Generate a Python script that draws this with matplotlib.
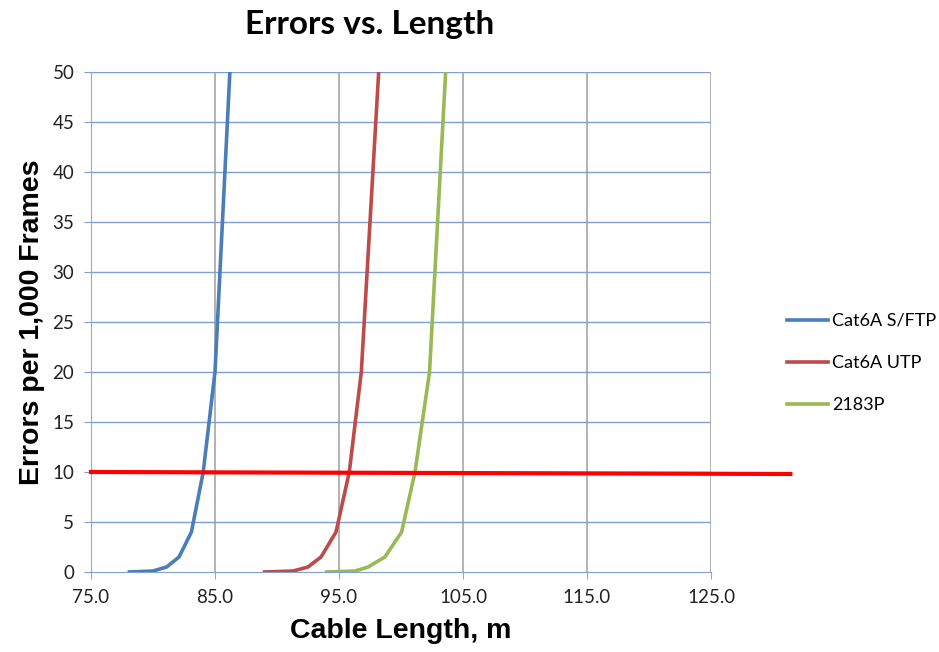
import matplotlib
matplotlib.use('Agg')
import matplotlib.pyplot as plt

# errors per 1,000 frames (same levels for every cable)
errors = [0, 0.1, 0.5, 1.5, 4, 10, 20, 50]
# cable length (m) at each error level
len_sftp = [78.1, 80.0, 81.1, 82.1, 83.1, 84.05, 85.0, 86.2]
len_utp = [89.0, 91.3, 92.5, 93.55, 94.76, 95.83, 96.8, 98.2]
len_2183p = [94.0, 96.3, 97.35, 98.7, 100.05, 101.13, 102.3, 103.6]

limit_x = [75, 131.4]
limit_y = [10, 9.8]

xticks = [75, 85, 95, 105, 115, 125]
yticks = list(range(0, 55, 5))

fig = plt.figure(figsize=(9.39, 6.52), dpi=100)
ax = fig.add_axes([0.0969, 0.1227, 0.6603, 0.7669])

ax.set_xlim(75, 125)
ax.set_ylim(0, 50)
ax.set_xticks(xticks)
ax.set_xticklabels(['%.1f' % t for t in xticks])
ax.set_yticks(yticks)

for t in xticks[1:]:
    ax.axvline(t, color='#a6a6a6', lw=1.2, zorder=1)
for t in yticks[1:]:
    ax.axhline(t, color='#7f9fcf', lw=1.0, zorder=1)

for s in ['top', 'right']:
    ax.spines[s].set_visible(False)
ax.spines['left'].set_color('#a6a6a6')
ax.spines['bottom'].set_color('#7f9fcf')
ax.tick_params(axis='x', colors='#a6a6a6', length=5, labelcolor='#222222', labelsize=13.5, pad=7)
ax.tick_params(axis='y', colors='#7f9fcf', length=5, labelcolor='#222222', labelsize=13.5, pad=7)
for lab in ax.get_xticklabels() + ax.get_yticklabels():
    lab.set_family('Lato')

ax.plot(len_sftp, errors, color='#4a7ebb', lw=2.6, label='Cat6A S/FTP', zorder=3)
ax.plot(len_utp, errors, color='#be4b48', lw=2.6, label='Cat6A UTP', zorder=3)
ax.plot(len_2183p, errors, color='#98b954', lw=2.6, label='2183P', zorder=3)
ax.plot(limit_x, limit_y, color='#ff0000', lw=3, clip_on=False, zorder=4)

leg = ax.legend(loc='center left', bbox_to_anchor=(0.83, 0.443),
                bbox_transform=fig.transFigure, borderaxespad=0, frameon=False,
                prop={'family': 'Lato', 'size': 13}, handlelength=2.3,
                handletextpad=0.2, labelspacing=1.45)

fig.text(0.394, 0.962, 'Errors vs. Length', ha='center', va='center',
         fontsize=24, fontweight='bold', family='Lato')
ax.set_xlabel('Cable Length, m', fontsize=20.5, fontweight='bold',
              family='Liberation Sans', labelpad=9)
ax.set_ylabel('Errors per 1,000 Frames', fontsize=20.5, fontweight='bold',
              family='Liberation Sans', labelpad=5)

fig.savefig('out.png', dpi=100, facecolor='white')
